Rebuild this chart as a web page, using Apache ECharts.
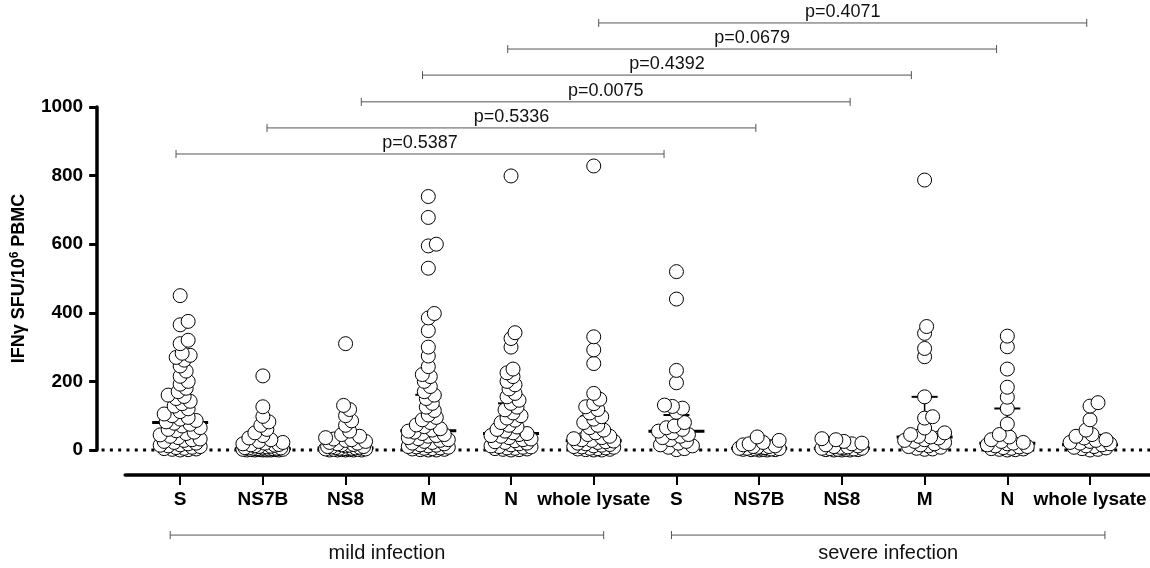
<!DOCTYPE html>
<html>
<head>
<meta charset="utf-8">
<title>IFN-gamma SFU</title>
<script src="https://cdn.jsdelivr.net/npm/echarts@6.0.0/dist/echarts.min.js"></script>
<style>
  html, body { margin: 0; padding: 0; background: #fff; }
  #main { width: 1150px; height: 568px; }
</style>
</head>
<body>
<div id="main"></div>
<script>
// categories
var groupNames = ['S', 'NS7B', 'NS8', 'M', 'N', 'whole lysate', 'S', 'NS7B', 'NS8', 'M', 'N', 'whole lysate'];

// mild infection
var mildS = [450, 375, 365, 320, 310, 282, 276, 270, 262, 245, 230, 215, 200, 192, 180, 170, 160, 156, 150, 142,
    135, 128, 120, 112, 105, 100, 95, 90, 86, 82, 78, 75, 70, 65, 60, 56, 52, 48, 44, 40, 36, 32, 30, 28, 25, 22,
    20, 18, 15, 14, 12, 10, 8, 7, 5, 4, 3, 2, 1, 0];
var mildNS7B = [216, 126, 98, 82, 72, 60, 50, 42, 35, 30, 25, 22, 20, 18, 16, 15, 14, 12, 11, 10, 9, 8, 7, 6, 6, 5,
    5, 4, 4, 3, 3, 2, 2, 2, 1, 1, 1, 0, 0, 0, 0, 0, 0];
var mildNS8 = [310, 130, 118, 100, 85, 72, 55, 45, 40, 36, 32, 30, 28, 25, 22, 20, 18, 16, 15, 14, 12, 10, 10, 9, 8,
    7, 6, 5, 5, 4, 4, 3, 3, 2, 2, 1, 1, 0, 0, 0, 0, 0];
var mildM = [739, 678, 600, 595, 530, 398, 385, 348, 300, 274, 243, 220, 214, 200, 185, 170, 160, 150, 136, 125, 115,
    102, 95, 88, 80, 73, 68, 62, 58, 55, 52, 48, 45, 42, 40, 36, 33, 30, 28, 25, 22, 20, 18, 15, 14, 12, 10, 9, 8, 6,
    5, 4, 3, 2, 1, 0, 0];
var mildN = [799, 342, 325, 300, 236, 225, 214, 200, 190, 178, 165, 155, 145, 136, 125, 117, 108, 100, 93, 87, 80, 72,
    67, 60, 55, 50, 48, 45, 42, 40, 36, 32, 30, 27, 24, 22, 20, 18, 15, 12, 10, 9, 8, 6, 5, 4, 3, 2, 1, 0];
var mildWL = [828, 330, 292, 252, 165, 148, 135, 126, 118, 108, 97, 90, 80, 72, 65, 58, 50, 45, 40, 36, 33, 30, 28, 26,
    24, 22, 20, 18, 16, 14, 12, 10, 9, 8, 6, 5, 4, 3, 2, 1, 0, 0];

// severe infection
var severeS = [520, 440, 232, 196, 131, 127, 122, 110, 80, 70, 65, 60, 55, 50, 45, 40, 36, 30, 25, 20, 15, 12, 8, 4, 1];
var severeNS7B = [38, 28, 22, 18, 15, 12, 10, 10, 8, 7, 6, 5, 5, 4, 3, 3, 2, 2, 1, 1, 0, 0];
var severeNS8 = [33, 30, 25, 20, 18, 15, 12, 10, 9, 8, 6, 5, 5, 4, 3, 2, 2, 1, 1, 0, 0, 0];
var severeM = [787, 360, 340, 296, 272, 155, 97, 93, 64, 50, 45, 40, 38, 35, 30, 28, 25, 22, 18, 15, 12, 10, 8, 5, 3, 2];
var severeN = [332, 301, 236, 183, 154, 121, 76, 45, 38, 30, 25, 22, 20, 18, 15, 12, 10, 9, 7, 5, 4, 3, 2, 1, 0];
var severeWL = [138, 128, 88, 58, 45, 40, 35, 30, 28, 25, 22, 20, 18, 15, 12, 10, 8, 6, 4, 2, 0];

// median with interquartile range, per group
var medians = [80, 4, 6, 56, 48, 27, 55, 5, 5, 38, 20, 15];
var q1 = [20, 0, 0, 10, 10, 5, 15, 2, 1, 12, 5, 5];
var q3 = [158, 14, 30, 161, 136, 99, 102, 12, 12, 155, 121, 44];

// comparisons mild vs severe
var pLabels = ['p=0.5387', 'p=0.5336', 'p=0.0075', 'p=0.4392', 'p=0.0679', 'p=0.4071'];
var pFrom = [-0.05, 1.05, 2.19, 2.93, 3.96, 5.06];
var pTo = [5.85, 6.96, 8.1, 8.84, 9.87, 10.96];
var pLevel = [863, 939, 1015, 1093, 1169, 1245];

// condition groups under the axis
var condLabels = ['mild infection', 'severe infection'];
var condFrom = [-0.12, 5.94];
var condTo = [5.12, 11.18];
var condLevel = -248;

var groups = [mildS, mildNS7B, mildNS8, mildM, mildN, mildWL, severeS, severeNS7B, severeNS8, severeM, severeN, severeWL];

var FONT = '"Liberation Sans", Arial, Helvetica, sans-serif';
var xMin = -0.6648, xMax = 11.725;
var pxPerX = 1025 / (xMax - xMin);   // grid width / x range
var pxPerY = 343 / 1000;             // grid height / y range

// beeswarm: push each point sideways until it clears the ones already placed
function swarm(values, center) {
    var sorted = values.slice().sort(function (a, b) { return a - b; });
    var placed = [];
    var out = [];
    var minDist = 7, maxOff = 20, step = 2;
    sorted.forEach(function (v) {
        var py = v * pxPerY;
        var best = 0, bestD = -1, found = false;
        for (var k = 0; k <= maxOff / step * 2 && !found; k++) {
            var off = (k % 2 === 1 ? 1 : -1) * Math.ceil(k / 2) * step;
            var d = Infinity;
            for (var p = 0; p < placed.length; p++) {
                var dx = placed[p][0] - off, dy = placed[p][1] - py;
                d = Math.min(d, Math.sqrt(dx * dx + dy * dy));
            }
            if (d >= minDist) { best = off; found = true; }
            else if (d > bestD) { bestD = d; best = off; }
        }
        placed.push([best, py]);
        out.push([center + best / pxPerX, v]);
    });
    return out;
}

var series = [];

series.push({
    name: 'baseline',
    type: 'custom',
    silent: true,
    z: 1,
    data: [[-0.95, xMax, 0]],
    encode: { x: [0, 1], y: 2 },
    renderItem: function (params, api) {
        var a = api.coord([api.value(0), api.value(2)]);
        var b = api.coord([api.value(1), api.value(2)]);
        return {
            type: 'line',
            shape: { x1: a[0], y1: a[1], x2: b[0], y2: b[1] },
            style: { stroke: '#000', lineWidth: 3, lineDash: [3, 5.3] }
        };
    }
});

series.push({
    name: 'median',
    type: 'custom',
    z: 2,
    silent: true,
    data: medians.map(function (m, i) { return [i, q1[i], m, q3[i]]; }),
    encode: { x: 0, y: [1, 2, 3] },
    renderItem: function (params, api) {
        var x = api.value(0);
        var lo = api.coord([x, api.value(1)]);
        var md = api.coord([x, api.value(2)]);
        var hi = api.coord([x, api.value(3)]);
        return {
            type: 'group',
            children: [
                { type: 'line', shape: { x1: lo[0], y1: lo[1], x2: hi[0], y2: hi[1] }, style: { stroke: '#000', lineWidth: 1.5 } },
                { type: 'line', shape: { x1: md[0] - 28, y1: md[1], x2: md[0] + 28, y2: md[1] }, style: { stroke: '#000', lineWidth: 3 } },
                { type: 'line', shape: { x1: hi[0] - 13, y1: hi[1], x2: hi[0] + 13, y2: hi[1] }, style: { stroke: '#000', lineWidth: 2 } },
                { type: 'line', shape: { x1: lo[0] - 13, y1: lo[1], x2: lo[0] + 13, y2: lo[1] }, style: { stroke: '#000', lineWidth: 2 } }
            ]
        };
    }
});

groups.forEach(function (vals, i) {
    series.push({
        name: groupNames[i] + (i < 6 ? ' (mild)' : ' (severe)'),
        type: 'scatter',
        data: swarm(vals, i),
        symbol: 'circle',
        symbolSize: 14,
        clip: false,
        z: 3,
        itemStyle: { color: '#fff', borderColor: '#000', borderWidth: 1, opacity: 1 }
    });
});

function bracket(params, api, label, fontSize, textBelow) {
    var a = api.coord([api.value(0), api.value(2)]);
    var b = api.coord([api.value(1), api.value(2)]);
    var ty = textBelow ? a[1] + 8 : a[1] - 2;
    return {
        type: 'group',
        children: [
            { type: 'line', shape: { x1: a[0], y1: a[1], x2: b[0], y2: b[1] }, style: { stroke: '#555', lineWidth: 1 } },
            { type: 'line', shape: { x1: a[0], y1: a[1] - 4, x2: a[0], y2: a[1] + 4 }, style: { stroke: '#555', lineWidth: 1 } },
            { type: 'line', shape: { x1: b[0], y1: b[1] - 4, x2: b[0], y2: b[1] + 4 }, style: { stroke: '#555', lineWidth: 1 } },
            {
                type: 'text',
                style: {
                    x: (a[0] + b[0]) / 2, y: ty, text: label,
                    fill: '#111', font: fontSize + 'px ' + FONT,
                    textAlign: 'center', textVerticalAlign: textBelow ? 'top' : 'bottom'
                }
            }
        ]
    };
}

series.push({
    name: 'p values',
    type: 'custom',
    silent: true,
    z: 4,
    data: pLabels.map(function (l, i) { return [pFrom[i], pTo[i], pLevel[i]]; }),
    encode: { x: [0, 1], y: 2 },
    renderItem: function (params, api) {
        return bracket(params, api, pLabels[params.dataIndex], 18, false);
    }
});

series.push({
    name: 'conditions',
    type: 'custom',
    silent: true,
    z: 4,
    data: condLabels.map(function (l, i) { return [condFrom[i], condTo[i], condLevel]; }),
    encode: { x: [0, 1], y: 2 },
    renderItem: function (params, api) {
        return bracket(params, api, condLabels[params.dataIndex], 20, true);
    }
});

var tickValues = groupNames.map(function (n, i) { return i; });

var option = {
    animation: false,
    textStyle: { fontFamily: FONT },
    grid: { left: 125, right: 0, top: 107, bottom: 118 },
    xAxis: {
        type: 'value',
        min: xMin,
        max: xMax,
        offset: 25,
        splitLine: { show: false },
        axisLine: { onZero: false, lineStyle: { color: '#000', width: 3.5 } },
        axisTick: { customValues: tickValues, length: 10, lineStyle: { color: '#000', width: 2 } },
        axisLabel: {
            customValues: tickValues,
            margin: 15,
            color: '#000',
            fontSize: 19,
            fontWeight: 'bold',
            formatter: function (v) { return groupNames[Math.round(v)]; }
        }
    },
    yAxis: {
        type: 'value',
        min: 0,
        max: 1000,
        interval: 200,
        offset: 28,
        splitLine: { show: false },
        axisLine: { show: true, onZero: false, lineStyle: { color: '#000', width: 3.5 } },
        axisTick: { show: true, length: 8, lineStyle: { color: '#000', width: 3 } },
        axisLabel: {
            margin: 14, color: '#000', fontSize: 19, fontWeight: 'bold',
            formatter: function (v) { return String(v); }
        },
        name: 'IFNγ SFU/10{sup|6} PBMC',
        nameLocation: 'middle',
        nameGap: 63,
        nameTextStyle: {
            color: '#000', fontSize: 18, fontWeight: 'bold', lineHeight: 22,
            rich: { sup: { fontSize: 12, fontWeight: 'bold', color: '#000', lineHeight: 22, padding: [0, 0, 9, 0] } }
        }
    },
    series: series
};

var myChart = echarts.init(document.getElementById('main'));
myChart.setOption(option);
</script>
</body>
</html>
